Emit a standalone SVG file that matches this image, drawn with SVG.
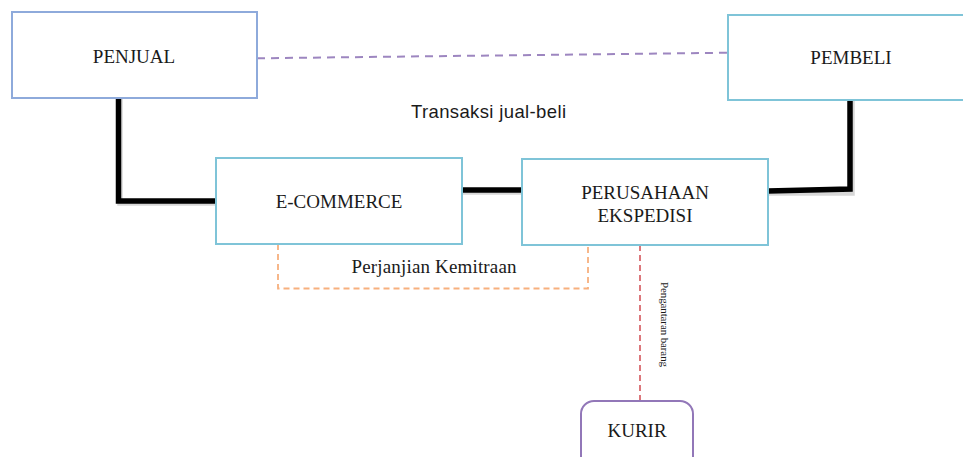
<svg xmlns="http://www.w3.org/2000/svg" width="963" height="457" viewBox="0 0 963 457">
<style>
.box{fill:#ffffff;stroke:#7fc4d8;stroke-width:2}
.lbl{font-family:"Liberation Serif","Times New Roman",serif;font-size:19px;fill:#1a1a1a;text-anchor:middle}
.thick{fill:none;stroke:#000000;stroke-width:5.5;stroke-linejoin:miter}
.shadow{fill:none;stroke:#b0b0b0;stroke-width:5.5;opacity:0.5}
</style>
<rect width="963" height="457" fill="#ffffff"/>
<g id="connectors">
<path class="shadow" d="M120,99 V203 H216 M462,192 H522 M768,193 H852 V101"/>
<path class="thick" d="M118.5,98 V201 H216"/>
<path class="thick" d="M462,190 H522"/>
<path class="thick" d="M768,191 L850,189 V100"/>
<path d="M257,58.3 L728,52.7" fill="none" stroke="#9d86c0" stroke-width="2" stroke-dasharray="8,6"/>
<path d="M278,244 V288.5 H588 V245" fill="none" stroke="#f7b07e" stroke-width="1.8" stroke-dasharray="6,4"/>
<path d="M640,245 V401" fill="none" stroke="#d9696e" stroke-width="1.8" stroke-dasharray="6,4"/>
<text x="411" y="118" font-family="Liberation Sans, Arial, sans-serif" font-size="18.5" fill="#1a1a1a" textLength="155">Transaksi jual-beli</text>
<text x="434" y="273" class="lbl" textLength="165">Perjanjian Kemitraan</text>
<text transform="translate(661,282) rotate(90)" font-family="Liberation Serif, Times New Roman, serif" font-size="11" fill="#1a1a1a" textLength="85">Pengantaran barang</text>
</g>
<g id="penjual">
<rect x="12" y="12" width="245" height="86" fill="#ffffff" stroke="#8eaadb" stroke-width="2"/>
<text x="134" y="63" class="lbl">PENJUAL</text>
</g>
<g id="pembeli">
<rect x="728" y="15" width="250" height="85" class="box"/>
<text x="851" y="64" class="lbl">PEMBELI</text>
</g>
<g id="ecommerce">
<rect x="216" y="158" width="246" height="86" class="box"/>
<text x="339" y="208" class="lbl">E-COMMERCE</text>
</g>
<g id="ekspedisi">
<rect x="522" y="159" width="246" height="86" class="box"/>
<text x="645" y="199" class="lbl">PERUSAHAAN</text>
<text x="645" y="222" class="lbl">EKSPEDISI</text>
</g>
<g id="kurir">
<rect x="581" y="401" width="112" height="80" rx="13" ry="13" fill="#ffffff" stroke="#9277b8" stroke-width="2"/>
<text x="637" y="437" class="lbl">KURIR</text>
</g>
</svg>
